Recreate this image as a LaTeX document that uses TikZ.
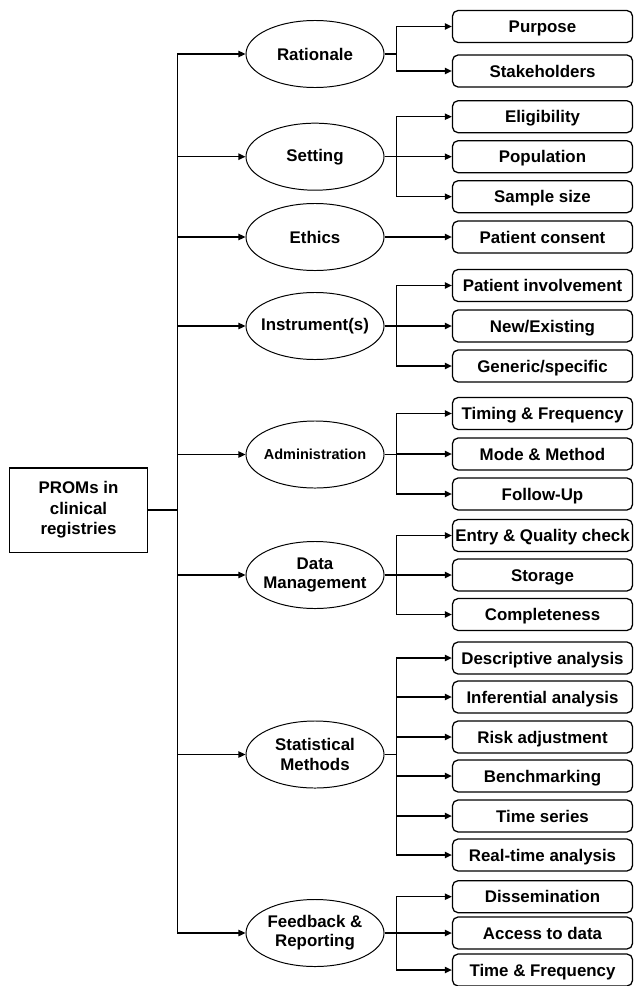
\documentclass[tikz,border=0pt]{standalone}
\usepackage{fontspec}
\setmainfont{Liberation Sans}
\usepackage{tikz}
\usetikzlibrary{shapes.geometric,arrows.meta}

\tikzset{
	topic/.style={draw,ellipse,line width=0.7pt,minimum width=3.45cm,minimum height=1.675cm,inner xsep=-0.8cm,inner ysep=0pt,align=center,font=\fontsize{12}{13.7}\selectfont\bfseries},
	item/.style={draw,rounded corners=4pt,line width=0.9pt,minimum width=4.5cm,minimum height=0.8cm,inner sep=1pt,text height=8.6pt,text depth=0pt,font=\fontsize{12}{14}\selectfont\bfseries},
	link/.style={line width=0.9pt,arrows=->},
	>={Triangle[length=5pt,width=4.5pt]}
}

\begin{document}
\begin{tikzpicture}[x=0.025cm,y=-0.025cm]
	\useasboundingbox (0,0) rectangle (634,986);
	% root
	\node[draw,line width=1.3pt,minimum width=3.45cm,minimum height=2.12cm,align=center,font=\fontsize{12}{14.5}\selectfont\bfseries] (root) at (78.5,510) {PROMs in\\clinical\\registries};
	% topics
	\node[topic] (rat) at (315,54) {Rationale};
	\node[topic] (setg) at (315,156.7) {Setting};
	\node[topic] (eth) at (315,237) {Ethics};
	\node[topic] (ins) at (315,326) {Instrument(s)};
	\node[topic,font=\fontsize{10.3}{12}\selectfont\bfseries] (adm) at (315,454.5) {Administration};
	\node[topic] (dat) at (315,575) {Data\\Management};
	\node[topic] (stat) at (315,754.5) {Statistical\\Methods};
	\node[topic] (feed) at (315,933) {Feedback \&\\Reporting};
	% items
	\node[item] (purp) at (542.5,26.5) {Purpose};
	\node[item] (stake) at (542.5,71) {Stakeholders};
	\node[item] (elig) at (542.5,116.7) {Eligibility};
	\node[item] (pop) at (542.5,156.7) {Population};
	\node[item] (samp) at (542.5,196.7) {Sample size};
	\node[item] (cons) at (542.5,237) {Patient consent};
	\node[item] (inv) at (542.5,285.5) {Patient involvement};
	\node[item] (new) at (542.5,326) {New/Existing};
	\node[item] (gen) at (542.5,366) {Generic/specific};
	\node[item] (tim) at (542.5,413.5) {Timing \& Frequency};
	\node[item] (mode) at (542.5,454) {Mode \& Method};
	\node[item] (fol) at (542.5,494) {Follow-Up};
	\node[item] (entry) at (542.5,535.5) {Entry \& Quality check};
	\node[item] (stor) at (542.5,575) {Storage};
	\node[item] (comp) at (542.5,614.5) {Completeness};
	\node[item] (desc) at (542.5,658) {Descriptive analysis};
	\node[item] (infer) at (542.5,697) {Inferential analysis};
	\node[item] (risk) at (542.5,737) {Risk adjustment};
	\node[item] (bench) at (542.5,776) {Benchmarking};
	\node[item] (tser) at (542.5,816) {Time series};
	\node[item] (real) at (542.5,855) {Real-time analysis};
	\node[item] (diss) at (542.5,896.7) {Dissemination};
	\node[item] (acc) at (542.5,933) {Access to data};
	\node[item] (tfreq) at (542.5,970) {Time \& Frequency};
	% trunk
	\draw[line width=1.3pt] (root.east) -- ++(29,0);
	\draw[link] (root.east) ++(29,0) |- (rat.west);
	\draw[link] (root.east) ++(29,0) |- (setg.west);
	\draw[link] (root.east) ++(29,0) |- (eth.west);
	\draw[link] (root.east) ++(29,0) |- (ins.west);
	\draw[link] (root.east) ++(29,0) |- (adm.west);
	\draw[link] (root.east) ++(29,0) |- (dat.west);
	\draw[link] (root.east) ++(29,0) |- (stat.west);
	\draw[link] (root.east) ++(29,0) |- (feed.west);
	% branches
	\draw[link] (rat.east) -- ++(12,0) |- (purp.west);
	\draw[link] (rat.east) -- ++(12,0) |- (stake.west);
	\draw[link] (setg.east) -- ++(12,0) |- (elig.west);
	\draw[link] (setg.east) -- (pop.west);
	\draw[link] (setg.east) -- ++(12,0) |- (samp.west);
	\draw[link] (eth.east) -- (cons.west);
	\draw[link] (ins.east) -- ++(12,0) |- (inv.west);
	\draw[link] (ins.east) -- (new.west);
	\draw[link] (ins.east) -- ++(12,0) |- (gen.west);
	\draw[link] (adm.east) -- ++(12,0) |- (tim.west);
	\draw[link] (adm.east) -- ++(12,0) |- (mode.west);
	\draw[link] (adm.east) -- ++(12,0) |- (fol.west);
	\draw[link] (dat.east) -- ++(12,0) |- (entry.west);
	\draw[link] (dat.east) -- (stor.west);
	\draw[link] (dat.east) -- ++(12,0) |- (comp.west);
	\draw[link] (stat.east) -- ++(12,0) |- (desc.west);
	\draw[link] (stat.east) -- ++(12,0) |- (infer.west);
	\draw[link] (stat.east) -- ++(12,0) |- (risk.west);
	\draw[link] (stat.east) -- ++(12,0) |- (bench.west);
	\draw[link] (stat.east) -- ++(12,0) |- (tser.west);
	\draw[link] (stat.east) -- ++(12,0) |- (real.west);
	\draw[link] (feed.east) -- ++(12,0) |- (diss.west);
	\draw[link] (feed.east) -- (acc.west);
	\draw[link] (feed.east) -- ++(12,0) |- (tfreq.west);
\end{tikzpicture}
\end{document}
